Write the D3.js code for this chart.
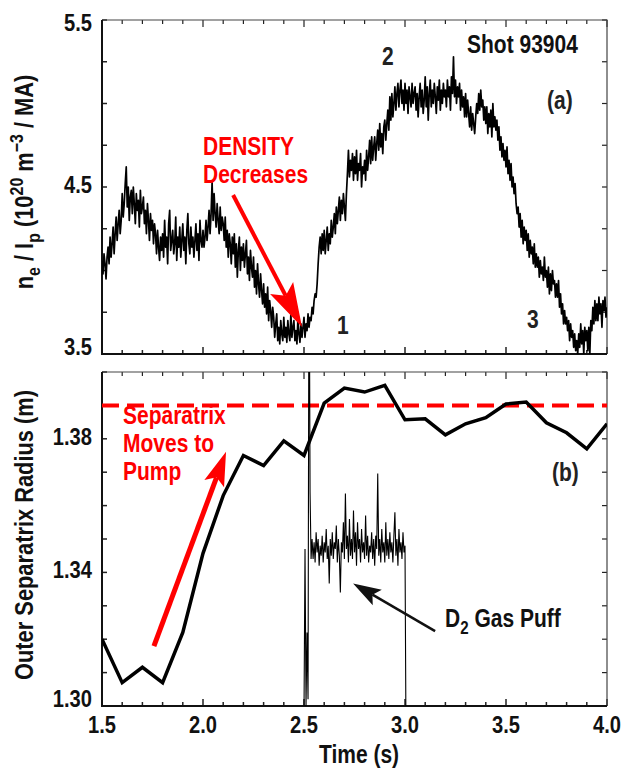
<!DOCTYPE html>
<html>
<head>
<meta charset="utf-8">
<script src="https://cdn.jsdelivr.net/npm/d3@7"></script>
<style>
  body { margin: 0; background: #fff; }
  text { font-family: "Liberation Sans", Arial, sans-serif; font-weight: bold; }
</style>
</head>
<body>
<svg id="chart" width="623" height="771"></svg>
<script>
// density / plasma current, sampled every 5 ms from 1.5 s
const densityStart = 1.5;
const densityStep = 0.005;
const densityVals = [
  4.06,3.98,4.10,4.04,3.95,4.08,4.14,4.04,4.20,4.08,
  4.16,4.26,4.10,4.22,4.32,4.18,4.28,4.36,4.22,4.30,
  4.46,4.32,4.40,4.52,4.62,4.38,4.50,4.30,4.44,4.48,
  4.34,4.50,4.40,4.28,4.46,4.36,4.42,4.26,4.48,4.34,
  4.38,4.44,4.28,4.36,4.22,4.40,4.30,4.18,4.34,4.24,
  4.30,4.16,4.28,4.22,4.10,4.24,4.14,4.06,4.20,4.12,
  4.22,4.08,4.30,4.14,4.20,4.04,4.28,4.36,4.12,4.18,
  4.24,4.10,4.16,4.32,4.06,4.20,4.14,4.26,4.08,4.18,
  4.28,4.12,4.20,4.04,4.24,4.34,4.16,4.10,4.26,4.14,
  4.20,4.08,4.18,4.28,4.12,4.22,4.06,4.30,4.18,4.14,
  4.24,4.14,4.20,4.30,4.18,4.26,4.36,4.22,4.34,4.53,
  4.30,4.46,4.34,4.26,4.40,4.30,4.22,4.38,4.24,4.32,
  4.28,4.18,4.32,4.14,4.24,4.08,4.22,4.16,4.04,4.20,
  4.10,4.22,4.02,4.16,3.96,4.12,4.20,4.00,4.14,4.06,
  4.16,4.02,4.10,4.18,3.98,4.08,3.94,4.12,4.02,3.96,
  4.08,3.90,4.00,3.86,4.04,3.92,3.84,3.98,3.88,3.80,
  3.92,3.78,3.86,3.74,3.90,3.70,3.82,3.76,3.66,3.78,
  3.72,3.60,3.68,3.74,3.58,3.66,3.56,3.70,3.62,3.58,
  3.72,3.60,3.66,3.57,3.70,3.62,3.58,3.74,3.60,3.66,
  3.70,3.58,3.64,3.56,3.72,3.62,3.57,3.68,3.60,3.66,
  3.72,3.60,3.68,3.64,3.74,3.66,3.72,3.70,3.78,3.74,
  3.82,3.86,3.84,3.92,4.04,4.14,4.20,4.10,4.22,4.12,
  4.24,4.10,4.18,4.26,4.12,4.22,4.16,4.30,4.20,4.26,
  4.34,4.22,4.38,4.28,4.36,4.44,4.30,4.42,4.34,4.46,
  4.38,4.30,4.46,4.58,4.72,4.56,4.66,4.60,4.70,4.54,
  4.68,4.58,4.72,4.54,4.64,4.60,4.70,4.50,4.62,4.58,
  4.66,4.54,4.72,4.60,4.68,4.78,4.64,4.80,4.66,4.74,
  4.80,4.66,4.76,4.84,4.72,4.88,4.74,4.82,4.70,4.86,
  4.90,4.78,4.88,4.96,4.84,5.04,4.90,5.06,4.92,5.00,
  5.10,4.96,5.06,5.12,4.98,5.08,5.14,5.00,5.08,4.96,
  5.12,5.00,5.08,4.94,5.10,5.04,4.98,5.12,5.00,5.06,
  5.10,4.96,5.06,4.92,5.04,5.12,4.98,5.08,4.94,5.02,
  5.16,4.98,5.10,4.90,5.06,5.14,4.98,5.08,5.00,5.12,
  5.04,4.94,5.10,5.02,5.14,4.96,5.08,5.00,5.12,5.04,
  5.08,4.98,5.14,5.04,5.10,4.96,5.16,5.06,5.28,5.04,
  5.14,5.00,5.10,5.04,5.12,4.96,5.08,4.98,5.04,4.92,
  5.06,4.92,5.02,4.94,4.86,4.98,4.84,4.94,4.88,4.82,
  4.92,5.00,4.94,5.06,4.96,5.08,4.98,5.02,4.90,4.98,
  4.88,4.98,4.82,4.94,4.86,4.96,4.80,5.00,4.86,4.92,
  4.84,4.90,4.78,4.86,4.72,4.80,4.68,4.76,4.66,4.72,
  4.62,4.74,4.58,4.66,4.54,4.64,4.50,4.56,4.46,4.52,
  4.40,4.34,4.38,4.26,4.34,4.20,4.30,4.16,4.26,4.18,
  4.24,4.12,4.22,4.08,4.18,4.10,4.14,4.04,4.16,4.02,
  4.10,4.02,4.08,3.96,4.06,3.98,4.02,3.94,4.08,3.96,
  4.00,3.90,4.02,3.86,3.98,3.88,4.00,3.92,3.94,3.84,
  3.92,3.84,3.94,3.78,3.86,3.74,3.80,3.68,3.76,3.68,
  3.72,3.64,3.70,3.58,3.68,3.60,3.64,3.54,3.62,3.52,
  3.58,3.50,3.62,3.54,3.68,3.56,3.64,3.50,3.66,3.58,
  3.64,3.52,3.66,3.50,3.70,3.64,3.78,3.68,3.82,3.70,
  3.80,3.70,3.84,3.74,3.80,3.66,3.82,3.76,3.84,3.72,
  3.78
];

// outer separatrix radius (m)
const sepTimes = [1.5,1.6,1.7,1.8,1.9,2.0,2.1,2.2,2.3,2.4,2.5,2.6,2.7,2.8,2.9,3.0,3.1,3.2,3.3,3.4,3.5,3.6,3.7,3.8,3.9,4.0];
const sepVals = [1.320,1.307,1.3116,1.307,1.322,1.3457,1.363,1.375,1.372,1.3794,1.375,1.3907,1.3952,1.394,1.396,1.3857,1.386,1.3812,1.3845,1.3863,1.3904,1.391,1.3848,1.3818,1.377,1.3845];
const sepTarget = 1.39;

// D2 gas puff signal, every 5 ms from 2.5 s
const puffStart = 2.5;
const puffStep = 0.005;
const puffVals = [
  1.298,1.347,1.300,1.322,1.302,1.45,1.364,1.344,
  1.350,1.344,1.349,1.343,1.352,1.346,1.350,1.342,1.348,1.345,
  1.351,1.343,1.349,1.346,1.353,1.344,1.348,1.3367,1.350,1.345,
  1.352,1.344,1.349,1.347,1.354,1.343,1.350,1.345,1.334,1.349,
  1.346,1.355,1.344,1.3636,1.347,1.351,1.343,1.356,1.345,1.350,
  1.344,1.3585,1.346,1.352,1.342,1.355,1.347,1.350,1.343,1.353,
  1.346,1.349,1.344,1.357,1.345,1.351,1.343,1.348,1.346,1.352,
  1.344,1.350,1.342,1.351,1.347,1.3696,1.345,1.350,1.343,1.353,
  1.346,1.349,1.343,1.355,1.345,1.350,1.344,1.352,1.346,1.349,
  1.343,1.351,1.3580,1.345,1.350,1.342,1.353,1.346,1.349,1.344,
  1.352,1.346,
  1.348,1.29
];

const xMajor = [1.5,2.0,2.5,3.0,3.5,4.0];
const topYLabels = [3.5,4.5,5.5];
const botYLabels = [1.30,1.34,1.38];

const svg = d3.select("#chart");
const left = 102, right = 607;
const squeeze = 0.84;   // narrow bold look of the original lettering
const x = d3.scaleLinear().domain([1.5, 4.0]).range([left, right]);
const yTop = d3.scaleLinear().domain([3.5, 5.5]).range([354, 20]);
const yBot = d3.scaleLinear().domain([1.30, 1.40]).range([706, 372]);

const minorX = d3.range(15, 41).map(d => d / 10);

function ntext(px, py, size, color, anchor, rot) {
    return svg.append("text")
        .attr("transform", `translate(${px},${py})${rot ? " rotate(" + rot + ")" : ""} scale(${squeeze},1)`)
        .attr("font-size", size)
        .attr("fill", color)
        .attr("text-anchor", anchor || "start");
}

function frame(y, yTicks, yLabels, fmt, showX, id) {
    const top = y.range()[1], bottom = y.range()[0];

    svg.append("clipPath").attr("id", id)
      .append("rect").attr("x", left).attr("y", top)
        .attr("width", right - left).attr("height", bottom - top);

    // tick marks, all pointing inward
    const g = svg.append("g").attr("stroke", "#222");
    minorX.forEach(t => {
        const len = xMajor.some(m => Math.abs(m - t) < 1e-6) ? 7 : 4;
        g.append("line").attr("x1", x(t)).attr("x2", x(t))
            .attr("y1", bottom).attr("y2", bottom - len).attr("stroke-width", 1.5);
        g.append("line").attr("x1", x(t)).attr("x2", x(t))
            .attr("y1", top).attr("y2", top + len).attr("stroke-width", 1.2);
    });
    yTicks.forEach(v => {
        g.append("line").attr("x1", left).attr("x2", left + 5)
            .attr("y1", y(v)).attr("y2", y(v)).attr("stroke-width", 1.5);
        g.append("line").attr("x1", right).attr("x2", right - 5)
            .attr("y1", y(v)).attr("y2", y(v)).attr("stroke-width", 1.2);
    });

    // box: heavy left/bottom, light top/right
    svg.append("path")
        .attr("d", `M${left},${top}H${right}V${bottom}`)
        .attr("fill", "none").attr("stroke", "#444").attr("stroke-width", 1.2);
    svg.append("path")
        .attr("d", `M${left},${top}V${bottom}H${right}`)
        .attr("fill", "none").attr("stroke", "#111").attr("stroke-width", 2);

    const dom = y.domain();
    yLabels.forEach(d => {
        const dy = Math.abs(d - dom[1]) < 1e-6 ? 11 : (Math.abs(d - dom[0]) < 1e-6 ? 1 : 6);
        ntext(left - 10, y(d) + dy, 24, "#111", "end").text(fmt(d));
    });

    if (showX) {
        xMajor.forEach(d => {
            ntext(x(d), bottom + 27, 24, "#111", "middle").text(d3.format(".1f")(d));
        });
    }
}

frame(yTop, d3.range(3.5, 5.51, 0.25), topYLabels, d3.format(".1f"), false, "clipTop");
frame(yBot, d3.range(1.30, 1.4001, 0.01), botYLabels, d3.format(".2f"), true, "clipBot");

// panel (a) trace
const densityPts = densityVals.map((v, i) => [densityStart + i * densityStep, v]);
svg.append("path")
    .datum(densityPts)
    .attr("clip-path", "url(#clipTop)")
    .attr("fill", "none")
    .attr("stroke", "#000")
    .attr("stroke-width", 1.7)
    .attr("stroke-linejoin", "round")
    .attr("d", d3.line().x(d => x(d[0])).y(d => yTop(d[1])));

// panel (b): target dashed line, gas puff, separatrix radius
svg.append("line")
    .attr("x1", x(1.5)).attr("x2", x(4.0))
    .attr("y1", yBot(sepTarget)).attr("y2", yBot(sepTarget))
    .attr("stroke", "#ff0000").attr("stroke-width", 4)
    .attr("stroke-dasharray", "17,8");

const puffPts = puffVals.map((v, i) => [puffStart + i * puffStep, v]);
svg.append("path")
    .datum(puffPts)
    .attr("clip-path", "url(#clipBot)")
    .attr("fill", "none")
    .attr("stroke", "#000")
    .attr("stroke-width", 1.1)
    .attr("d", d3.line().x(d => x(d[0])).y(d => yBot(d[1])));

svg.append("path")
    .datum(sepTimes.map((t, i) => [t, sepVals[i]]))
    .attr("clip-path", "url(#clipBot)")
    .attr("fill", "none")
    .attr("stroke", "#000")
    .attr("stroke-width", 3.5)
    .attr("stroke-linejoin", "miter")
    .attr("d", d3.line().x(d => x(d[0])).y(d => yBot(d[1])));

// arrows, endpoints in data units
function arrow(sx, sy, tx, ty, color, width, headLen, halfW) {
    const dx = tx - sx, dy = ty - sy, L = Math.hypot(dx, dy);
    const ux = dx / L, uy = dy / L, px = -uy, py = ux;
    const bx = tx - ux * headLen, by = ty - uy * headLen;
    const nx = tx - ux * headLen * 0.8, ny = ty - uy * headLen * 0.8;
    svg.append("line")
        .attr("x1", sx).attr("y1", sy).attr("x2", nx).attr("y2", ny)
        .attr("stroke", color).attr("stroke-width", width);
    svg.append("path")
        .attr("d", `M${tx},${ty}L${bx + px * halfW},${by + py * halfW}L${nx},${ny}L${bx - px * halfW},${by - py * halfW}Z`)
        .attr("fill", color);
}
arrow(x(2.149), yTop(4.452), x(2.490), yTop(3.662), "#ff0000", 4, 44, 13);
arrow(x(1.757), yBot(1.3179), x(2.114), yBot(1.3761), "#ff0000", 5, 34, 10.5);
arrow(x(3.149), yBot(1.3224), x(2.743), yBot(1.3367), "#111", 2.5, 28, 9);

// annotations
ntext(203, 155, 25, "#ff0000").text("DENSITY");
ntext(203, 183, 25, "#ff0000").text("Decreases");
ntext(467, 53, 25, "#111").text("Shot 93904");
ntext(382, 65, 25, "#222").text("2");
ntext(547, 109, 25, "#222").text("(a)");
ntext(337, 334, 25, "#222").text("1");
ntext(527, 328, 25, "#222").text("3");
ntext(552, 481, 25, "#222").text("(b)");
ntext(123, 424, 25, "#ff0000").text("Separatrix");
ntext(123, 452, 25, "#ff0000").text("Moves to");
ntext(123, 480, 25, "#ff0000").text("Pump");

const puffLabel = ntext(445, 627, 25, "#111");
puffLabel.append("tspan").text("D");
puffLabel.append("tspan").attr("dy", 7).attr("font-size", 18).text("2");
puffLabel.append("tspan").attr("dy", -7).text(" Gas Puff");

// axis titles
ntext(359, 763, 25, "#111", "middle").text("Time (s)");
ntext(33, 535, 26, "#111", "middle", -90).text("Outer Separatrix Radius (m)");

const yt = ntext(33, 182, 26, "#111", "middle", -90);
yt.append("tspan").text("n");
yt.append("tspan").attr("dy", 7).attr("font-size", 19).text("e");
yt.append("tspan").attr("dy", -7).text(" / I");
yt.append("tspan").attr("dy", 7).attr("font-size", 19).text("p");
yt.append("tspan").attr("dy", -7).text(" (10");
yt.append("tspan").attr("dy", -10).attr("font-size", 19).text("20");
yt.append("tspan").attr("dy", 10).text(" m");
yt.append("tspan").attr("dy", -10).attr("font-size", 19).text("\u22123");
yt.append("tspan").attr("dy", 10).text(" / MA)");
</script>
</body>
</html>
